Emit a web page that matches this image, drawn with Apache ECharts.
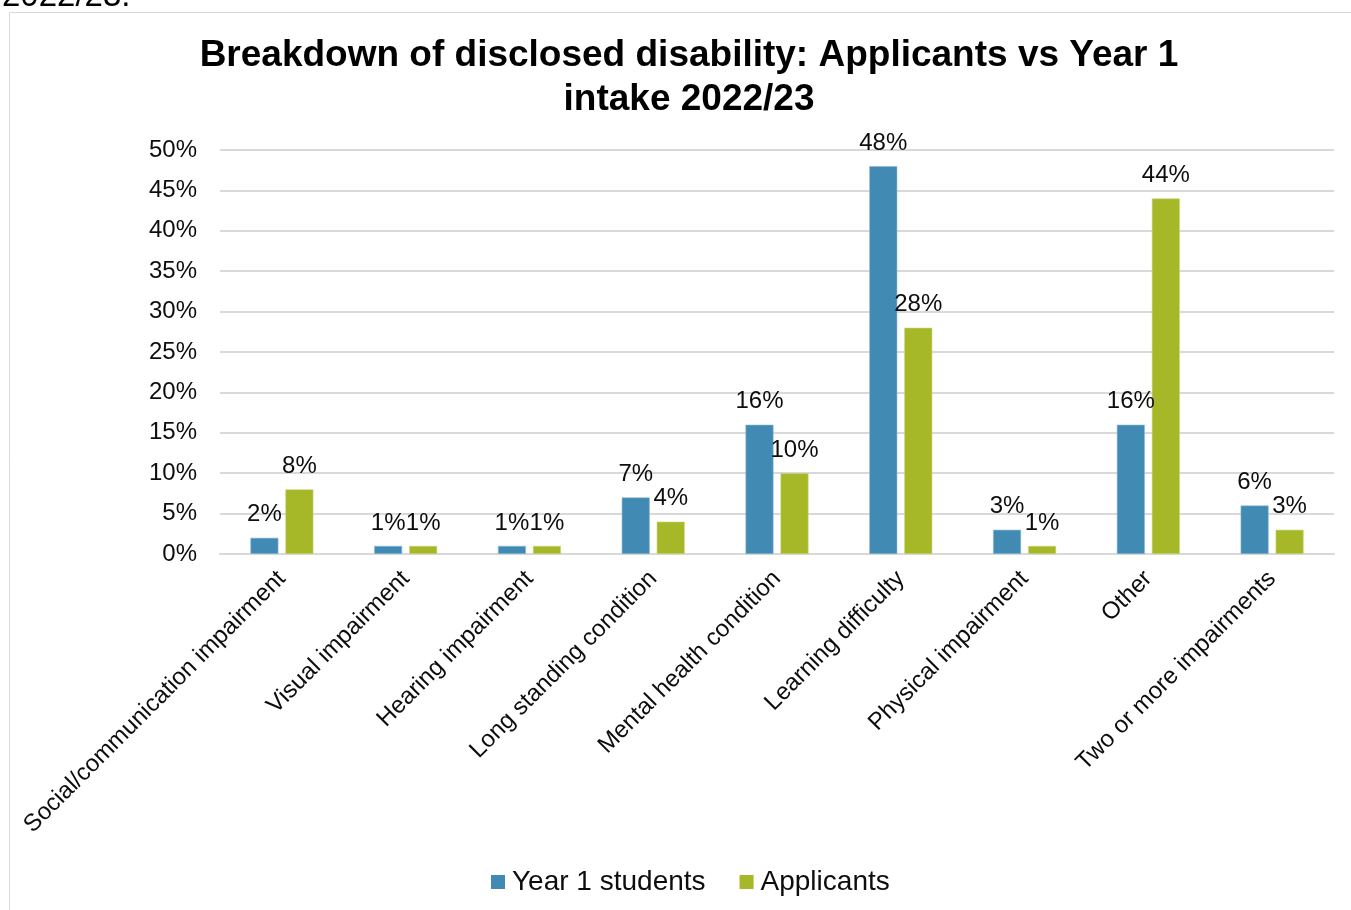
<!DOCTYPE html>
<html>
<head>
<meta charset="utf-8">
<title>Breakdown of disclosed disability</title>
<script src="https://cdn.jsdelivr.net/npm/echarts@6/dist/echarts.min.js"></script>
<style>
  html, body { margin: 0; padding: 0; background: #ffffff; }
  #chart { width: 1351px; height: 910px; }
</style>
</head>
<body>
<div id="chart"></div>
<script>
// Disability categories and shares (percent) for each group
var categories = [
  'Social/communication impairment',
  'Visual impairment',
  'Hearing impairment',
  'Long standing condition',
  'Mental health condition',
  'Learning difficulty',
  'Physical impairment',
  'Other',
  'Two or more impairments'
];
var year1Students = [2, 1, 1, 7, 16, 48, 3, 16, 6];
var applicants = [8, 1, 1, 4, 10, 28, 1, 44, 3];
var yTicks = [0, 5, 10, 15, 20, 25, 30, 35, 40, 45, 50];

var FONT = '"Liberation Sans", Arial, sans-serif';
var TEXT = '#0d0d0d';

var chart = echarts.init(document.getElementById('chart'), null, { renderer: 'canvas' });

function barLabel() {
  return {
    show: true,
    position: 'top',
    distance: 11,
    fontFamily: FONT,
    fontSize: 24,
    color: TEXT,
    formatter: function (p) { return p.value + '%'; }
  };
}

chart.setOption({
  animation: false,
  backgroundColor: '#ffffff',
  graphic: [
    {
      type: 'rect',
      shape: { x: 9.5, y: 12.5, width: 1400, height: 1000 },
      style: { fill: 'none', stroke: '#d9d9d9', lineWidth: 1 },
      silent: true
    },
    {
      type: 'text',
      left: 2,
      top: -20,
      style: { text: '2022/23.', fontFamily: FONT, fontSize: 33, fill: '#000000' },
      silent: true
    }
  ],
  title: {
    text: 'Breakdown of disclosed disability: Applicants vs Year 1\nintake 2022/23',
    left: 684,
    textAlign: 'center',
    top: 29,
    textStyle: {
      fontFamily: FONT,
      fontSize: 37,
      fontWeight: 'bold',
      color: '#000000',
      lineHeight: 44
    }
  },
  legend: {
    bottom: 9,
    left: 486,
    itemWidth: 14,
    itemHeight: 14,
    itemGap: 34,
    icon: 'rect',
    itemStyle: { borderWidth: 0 },
    textStyle: { fontFamily: FONT, fontSize: 28, color: TEXT, padding: [0, 0, 0, 2] },
    data: ['Year 1 students', 'Applicants']
  },
  grid: {
    left: 220,
    right: 17,
    top: 150,
    bottom: 356,
    containLabel: false
  },
  xAxis: {
    type: 'category',
    data: categories,
    axisLine: { show: true, lineStyle: { color: '#d9d9d9', width: 2 } },
    axisTick: { show: false },
    axisLabel: {
      rotate: 45,
      interval: 0,
      margin: 21,
      fontFamily: FONT,
      fontSize: 24,
      color: TEXT
    }
  },
  yAxis: {
    type: 'value',
    min: yTicks[0],
    max: yTicks[yTicks.length - 1],
    interval: 5,
    axisLine: { show: false },
    axisTick: { show: false },
    splitLine: { lineStyle: { color: '#d9d9d9', width: 2 } },
    axisLabel: {
      margin: 23,
      fontFamily: FONT,
      fontSize: 24,
      color: TEXT,
      formatter: '{value}%'
    }
  },
  series: [
    {
      name: 'Year 1 students',
      type: 'bar',
      data: year1Students,
      barWidth: 28,
      barGap: '25%',
      itemStyle: { color: '#418ab3', borderColor: '#8fbad3', borderWidth: 0.6 },
      label: barLabel()
    },
    {
      name: 'Applicants',
      type: 'bar',
      data: applicants,
      barWidth: 28,
      barGap: '25%',
      itemStyle: { color: '#a6b727', borderColor: '#cbd67e', borderWidth: 0.6 },
      label: barLabel()
    }
  ]
});
</script>
</body>
</html>
